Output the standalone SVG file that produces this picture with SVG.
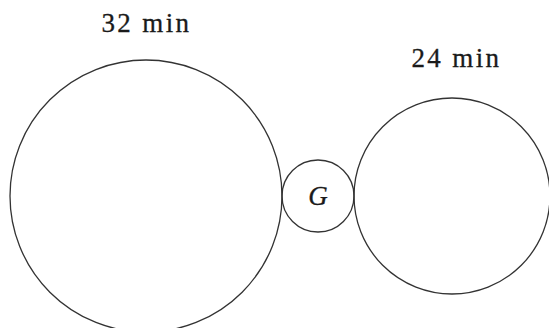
<svg xmlns="http://www.w3.org/2000/svg" width="549" height="328" viewBox="0 0 549 328">
<style>
.c{fill:none;stroke:#333;stroke-width:1.3}
.t{font-family:"Liberation Serif","DejaVu Serif",serif;font-size:27px;fill:#1a1a1a;stroke:#1a1a1a;stroke-width:0.3}
.g{font-style:italic}
</style>
<rect width="549" height="328" fill="#fff"/>
<g id="left">
<circle class="c" cx="146" cy="196" r="136"/>
<text class="t" x="101.5" y="32" textLength="87.5" lengthAdjust="spacing">32 min</text>
</g>
<g id="G">
<circle class="c" cx="318" cy="196" r="36"/>
<text class="t g" x="318" y="205" text-anchor="middle">G</text>
</g>
<g id="right">
<circle class="c" cx="452" cy="196" r="98"/>
<text class="t" x="411.5" y="67" textLength="87.5" lengthAdjust="spacing">24 min</text>
</g>
<g id="connectors"/>
</svg>
